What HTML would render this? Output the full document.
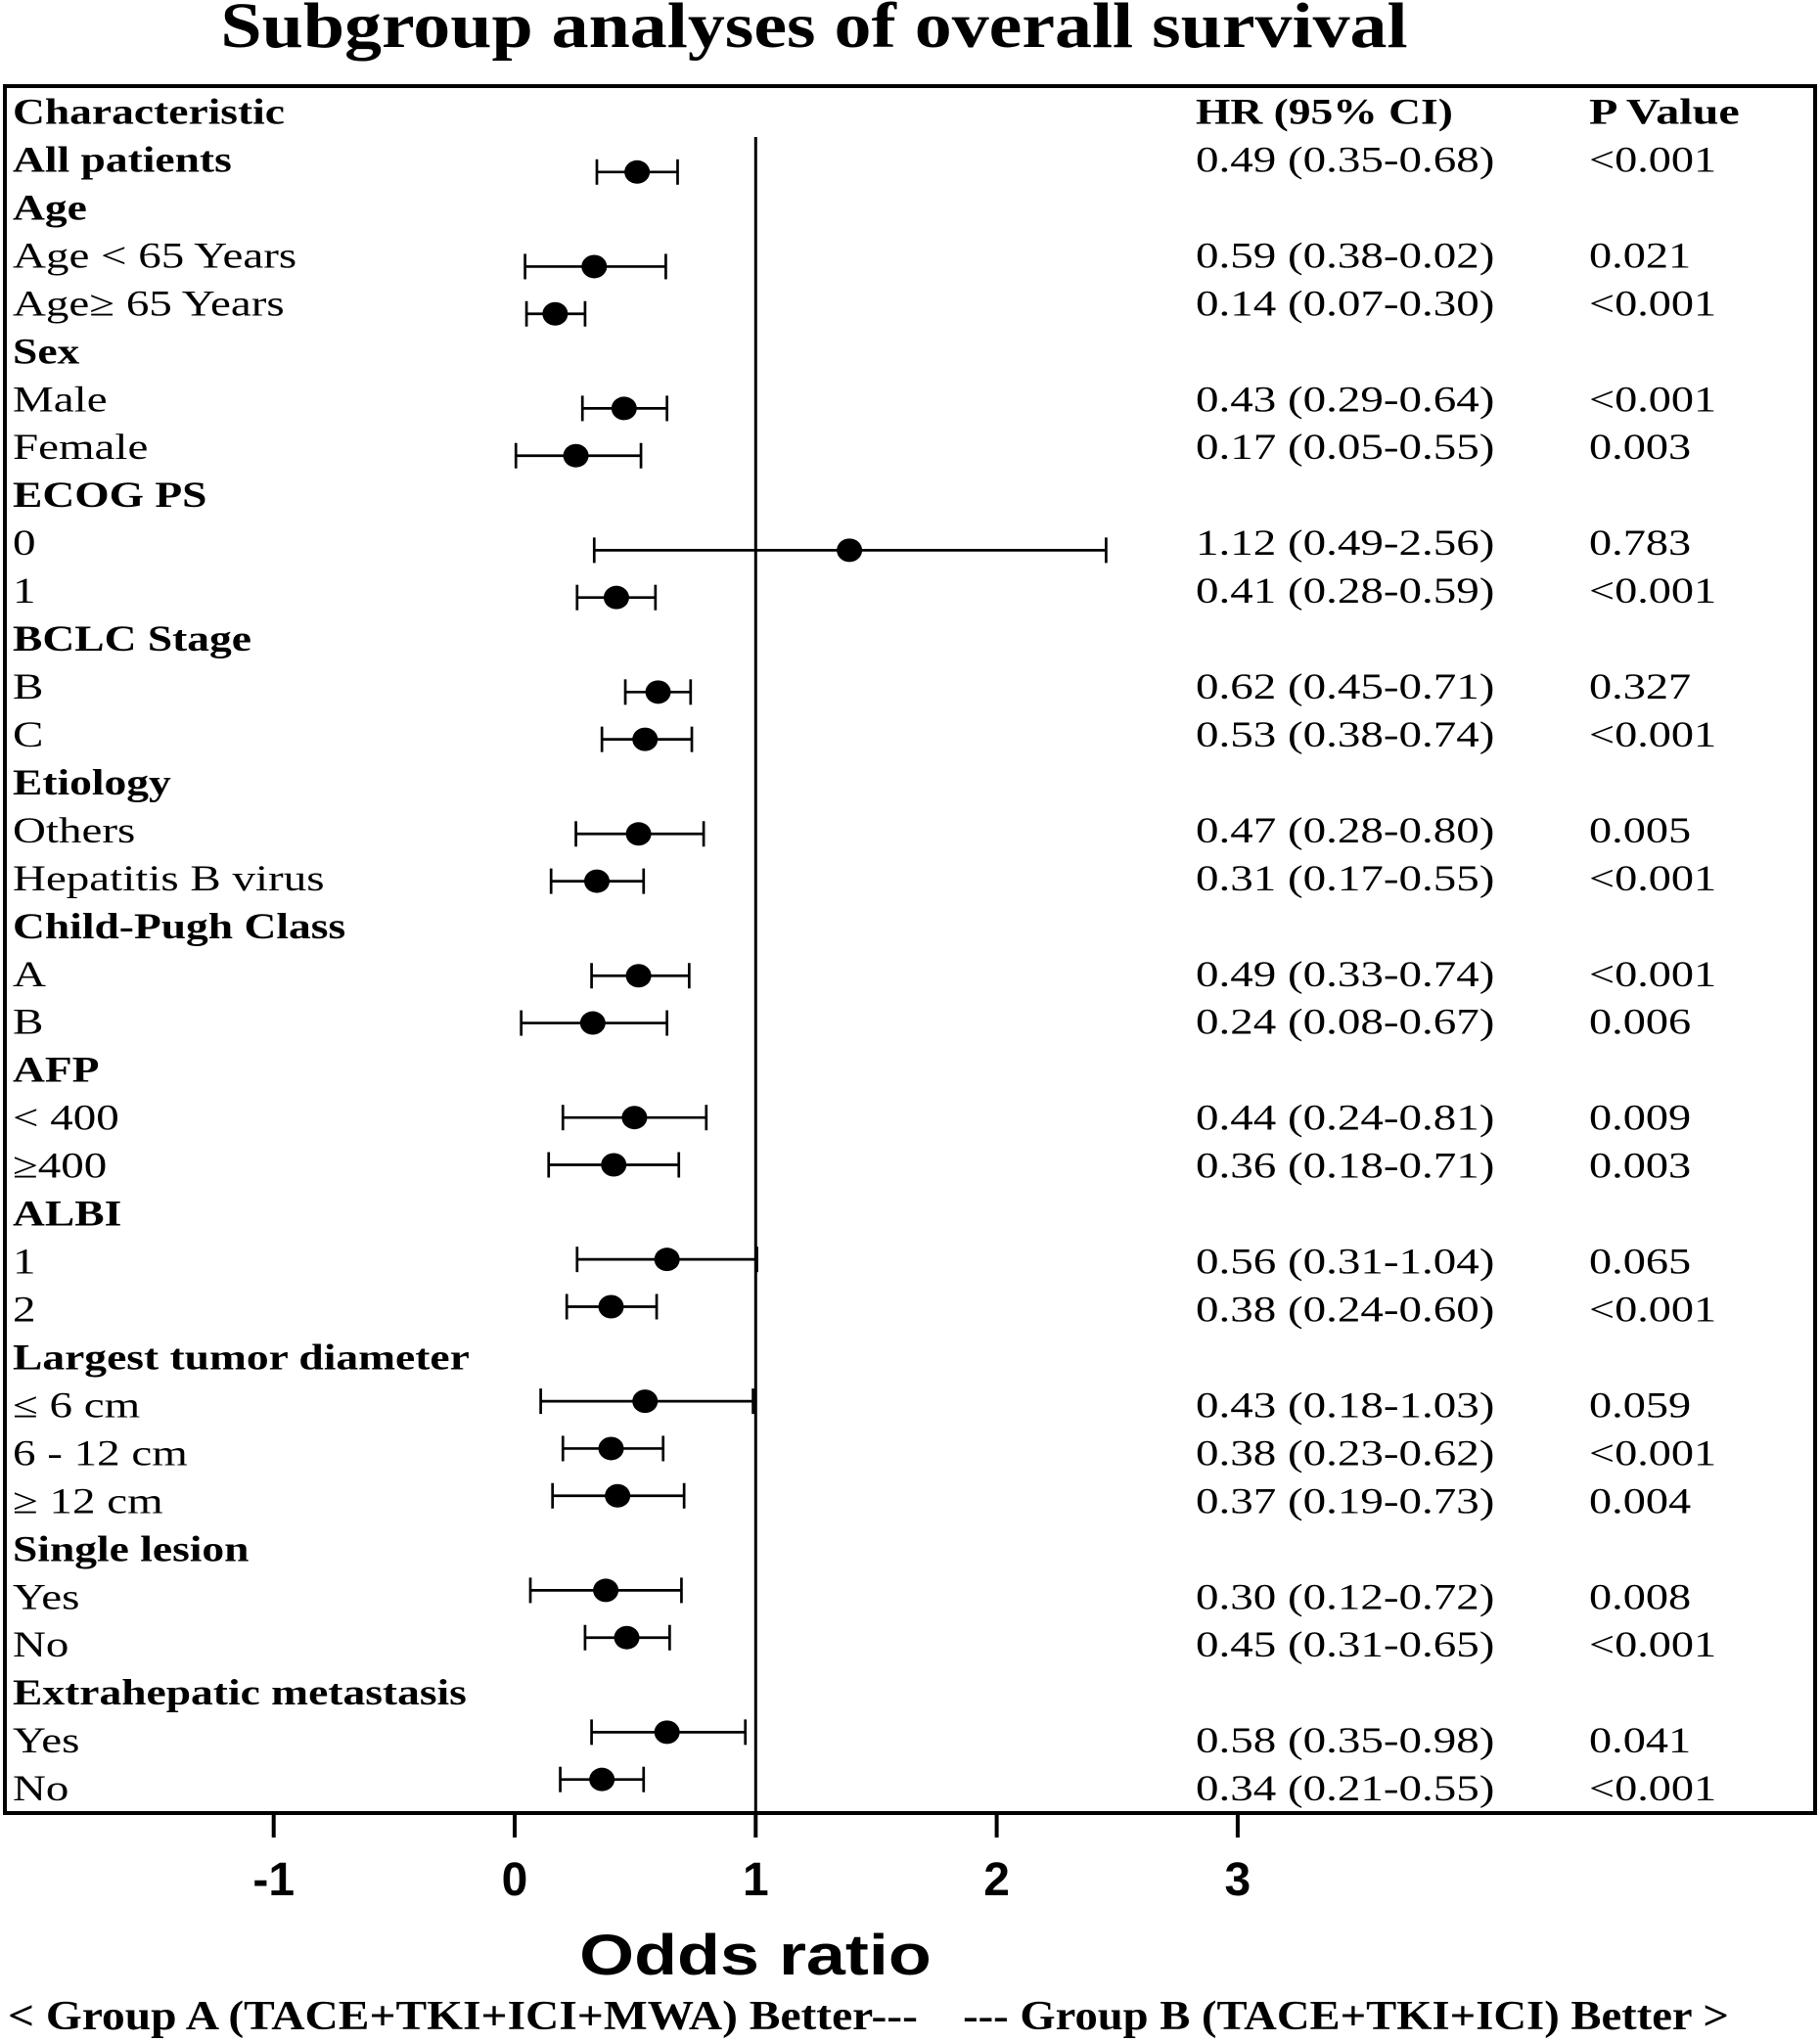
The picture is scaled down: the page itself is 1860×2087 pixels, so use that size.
<!DOCTYPE html>
<html><head><meta charset="utf-8"><style>
html,body{margin:0;padding:0;background:#fff;}
svg{display:block;}
</style></head><body>
<svg id="chart" xmlns="http://www.w3.org/2000/svg" width="1860" height="2087" viewBox="0 0 1860 2087">
<text data-sx="1.15" x="832" y="48" text-anchor="middle" font-family="Liberation Serif, serif" font-weight="bold" font-size="66">Subgroup analyses of overall survival</text>
<rect x="5" y="88" width="1850" height="1765" fill="none" stroke="#000" stroke-width="4"/>
<g id="rows"></g>
<g id="marks"></g>
<g id="axis"></g>
<text data-sx="1.24" x="772" y="2018" text-anchor="middle" font-family="Liberation Sans, sans-serif" font-weight="bold" font-size="58">Odds ratio</text>
<text data-sx="1.13" x="8" y="2074" font-family="Liberation Serif, serif" font-weight="bold" font-size="42">&lt; Group A (TACE+TKI+ICI+MWA) Better---</text>
<text data-sx="1.11" x="1767" y="2074" text-anchor="end" font-family="Liberation Serif, serif" font-weight="bold" font-size="42">--- Group B (TACE+TKI+ICI) Better &gt;</text>
</svg>
<script>
const labels=["Characteristic","All patients","Age","Age < 65 Years","Age\u2265 65 Years","Sex","Male","Female","ECOG PS","0","1","BCLC Stage","B","C","Etiology","Others","Hepatitis B virus","Child-Pugh Class","A","B","AFP"," < 400","\u2265400","ALBI","1","2","Largest tumor diameter","\u2264 6 cm","6 - 12 cm","\u2265 12 cm","Single lesion","Yes","No","Extrahepatic metastasis","Yes","No"];
const boldRows=[0,1,2,5,8,11,14,17,20,23,26,30,33];
const hrText=["HR (95% CI)","0.49 (0.35-0.68)","","0.59 (0.38-0.02)","0.14 (0.07-0.30)","","0.43 (0.29-0.64)","0.17 (0.05-0.55)","","1.12 (0.49-2.56)","0.41 (0.28-0.59)","","0.62 (0.45-0.71)","0.53 (0.38-0.74)","","0.47 (0.28-0.80)","0.31 (0.17-0.55)","","0.49 (0.33-0.74)","0.24 (0.08-0.67)","","0.44 (0.24-0.81)","0.36 (0.18-0.71)","","0.56 (0.31-1.04)","0.38 (0.24-0.60)","","0.43 (0.18-1.03)","0.38 (0.23-0.62)","0.37 (0.19-0.73)","","0.30 (0.12-0.72)","0.45 (0.31-0.65)","","0.58 (0.35-0.98)","0.34 (0.21-0.55)"];
const pText=["P Value","<0.001","","0.021","<0.001","","<0.001","0.003","","0.783","<0.001","","0.327","<0.001","","0.005","<0.001","","<0.001","0.006","","0.009","0.003","","0.065","<0.001","","0.059","<0.001","0.004","","0.008","<0.001","","0.041","<0.001"];
const pointRows=[1,3,4,6,7,9,10,12,13,15,16,18,19,21,22,24,25,27,28,29,31,32,34,35];
const estimates=[0.508,0.330,0.168,0.454,0.254,1.389,0.422,0.595,0.541,0.514,0.341,0.514,0.324,0.497,0.411,0.632,0.400,0.541,0.400,0.427,0.378,0.465,0.632,0.362];
const lowers=[0.341,0.043,0.049,0.281,0.005,0.330,0.259,0.459,0.362,0.254,0.151,0.319,0.027,0.200,0.141,0.259,0.216,0.108,0.200,0.157,0.065,0.292,0.319,0.189];
const uppers=[0.676,0.627,0.292,0.632,0.524,2.454,0.584,0.730,0.735,0.784,0.535,0.724,0.632,0.795,0.681,1.005,0.589,0.989,0.616,0.703,0.692,0.643,0.957,0.535];
const ticks=[-1,0,1,2,3];
const tickLabels=["-1","0","1","2","3"];

const NS="http://www.w3.org/2000/svg";
const X=v=>526+v*246.3;
const Y=r=>114.5+r*48.96;
const MY=r=>175.8+(r-1)*48.32;
function mk(tag,attrs,parent,txt){const e=document.createElementNS(NS,tag);for(const k in attrs)e.setAttribute(k,attrs[k]);if(txt!==undefined)e.textContent=txt;parent.appendChild(e);return e;}
const rowsG=document.getElementById('rows'),marksG=document.getElementById('marks'),axisG=document.getElementById('axis');
const F="Liberation Serif, serif";
labels.forEach((t,i)=>{
  const b=boldRows.includes(i);
  const el=mk('text',{x:13,y:Y(i)+12,'font-family':F,'font-size':37,'font-weight':b?'bold':'normal','data-sx':b?1.23:1.27},rowsG,t);
  
  
  if(hrText[i]){const h=mk('text',{x:1222,y:Y(i)+12,'font-family':F,'font-size':37,'font-weight':i===0?'bold':'normal','data-sx':i===0?1.23:1.27},rowsG,hrText[i]);
    
    }
  if(pText[i]){const p=mk('text',{x:1624,y:Y(i)+12,'font-family':F,'font-size':37,'font-weight':i===0?'bold':'normal','data-sx':i===0?1.3:1.25},rowsG,pText[i]);
    
    }
});
const ref=mk('line',{x1:X(1),x2:X(1),y1:140,y2:1853,stroke:'#000','stroke-width':3},marksG);


pointRows.forEach((r,i)=>{
  const y=MY(r);
  const g=mk('g',{},marksG);
  
  
  mk('line',{x1:X(lowers[i]),x2:X(uppers[i]),y1:y,y2:y,stroke:'#000','stroke-width':2.7},g);
  mk('line',{x1:X(lowers[i]),x2:X(lowers[i]),y1:y-13,y2:y+13,stroke:'#000','stroke-width':2.7},g);
  mk('line',{x1:X(uppers[i]),x2:X(uppers[i]),y1:y-13,y2:y+13,stroke:'#000','stroke-width':2.7},g);
  mk('ellipse',{cx:X(estimates[i]),cy:y,rx:13,ry:12,fill:'#000'},g);
});
ticks.forEach((v,i)=>{
  const t=mk('line',{x1:X(v),x2:X(v),y1:1853,y2:1878,stroke:'#000','stroke-width':4},axisG);
  
  
  const l=mk('text',{x:X(v),y:1937,'text-anchor':'middle','font-family':'Liberation Sans, sans-serif','font-weight':'bold','font-size':48},axisG,tickLabels[i]);
  
  
});
document.querySelectorAll('text[data-sx]').forEach(t=>{
  const w=t.getComputedTextLength();
  if(w>0){t.setAttribute('textLength',(w*parseFloat(t.getAttribute('data-sx'))).toFixed(1));t.setAttribute('lengthAdjust','spacingAndGlyphs');}
});
</script>
</body></html>
